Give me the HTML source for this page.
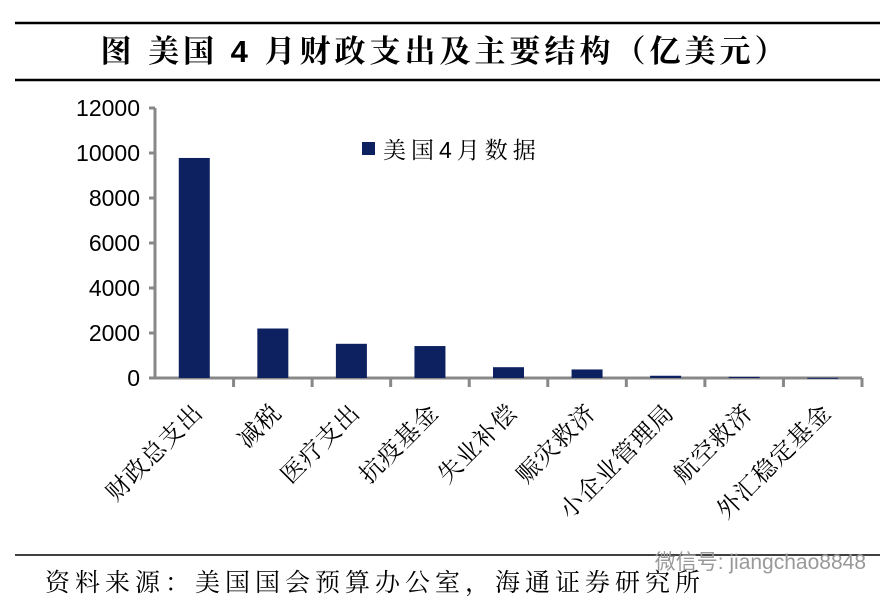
<!DOCTYPE html>
<html><head><meta charset="utf-8"><style>
body{margin:0;background:#fff;width:895px;height:604px;overflow:hidden;font-family:"Liberation Sans","Noto Sans CJK SC",sans-serif;}
</style></head><body>
<svg width="895" height="604" xmlns="http://www.w3.org/2000/svg">
<line x1="15" y1="23" x2="880" y2="23" stroke="#000" stroke-width="2.5"/>
<text x="445" y="62" text-anchor="middle" font-size="31" font-weight="bold" letter-spacing="4" font-family="Liberation Sans, Noto Serif CJK SC, serif">图  美国 4 月财政支出及主要结构（亿美元）</text>
<line x1="15" y1="80" x2="880" y2="80" stroke="#000" stroke-width="2.5"/>
<g id="plot"></g>
<rect x="362" y="142" width="13" height="13" fill="#0d2161"/>
<text x="383" y="158" font-size="23" letter-spacing="5" font-family="Liberation Sans, Noto Serif CJK SC, serif">美国4月数据</text>
<line x1="15" y1="555" x2="880" y2="555" stroke="#000" stroke-width="1.5"/>
<text x="45" y="591" font-size="25" letter-spacing="5" font-family="Liberation Sans, Noto Serif CJK SC, serif">资料来源：美国国会预算办公室，海通证券研究所</text>
<text x="866" y="569" text-anchor="end" font-size="21" fill="#999">微信号: jiangchao8848</text>
</svg>
<script>
const categories=["财政总支出","减税","医疗支出","抗疫基金","失业补偿","赈灾救济","小企业管理局","航空救济","外汇稳定基金"];
const values=[9780,2200,1520,1420,480,380,100,50,10];
const ticks=[0,2000,4000,6000,8000,10000,12000];
const NS="http://www.w3.org/2000/svg";
const g=document.getElementById('plot');
const x0=155,x1=862,y0=378,yTop=108,ymax=12000;
const y=v=>y0-(v/ymax)*(y0-yTop);
const bw=(x1-x0)/categories.length;
function mk(t,a){const e=document.createElementNS(NS,t);for(const k in a)e.setAttribute(k,a[k]);g.appendChild(e);return e;}
let ax=mk('line',{x1:x0,y1:yTop,x2:x0,y2:y0,stroke:'#888','stroke-width':3});


ticks.forEach(t=>{
 let l=mk('line',{x1:x0-6,y1:y(t),x2:x0,y2:y(t),stroke:'#888','stroke-width':3});
 
 
 let tx=mk('text',{x:x0-15,y:y(t)+8,'text-anchor':'end','font-size':23});
 tx.textContent=t;
 
 
});
let xa=mk('line',{x1:x0,y1:y0,x2:x1,y2:y0,stroke:'#888','stroke-width':3});


categories.forEach((c,i)=>{
 const cx=x0+bw*(i+0.5);
 let tk=mk('line',{x1:x0+bw*(i+1),y1:y0,x2:x0+bw*(i+1),y2:y0+9,stroke:'#888','stroke-width':3});
 
 
 const h=y0-y(values[i]);
 let r=mk('rect',{x:cx-15.5,y:y(values[i]),width:31,height:Math.max(h,1),fill:'#0d2161'});
 
 
 let tx=mk('text',{x:cx+10,y:y0+36,'text-anchor':'end','font-size':24,'letter-spacing':1,'font-family':'Liberation Sans, Noto Serif CJK SC, serif',transform:`rotate(-45 ${cx+10} ${y0+36})`});
 tx.textContent=c;
 
 
});
</script>
</body></html>
